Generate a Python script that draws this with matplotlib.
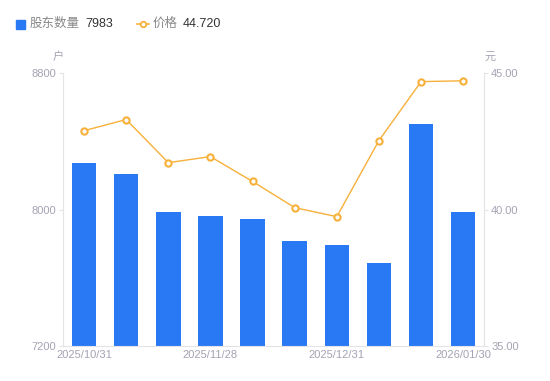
import numpy as np
import matplotlib.pyplot as plt
from matplotlib.lines import Line2D

plt.rcParams['font.family'] = ['Liberation Sans', 'Noto Sans CJK SC', 'DejaVu Sans']

# ----------------------------------------------------------------------
# data
# ----------------------------------------------------------------------
dates = ["2025/10/31", "2025/11/14", "2025/11/21", "2025/11/28", "2025/12/10",
         "2025/12/19", "2025/12/31", "2026/01/09", "2026/01/20", "2026/01/30"]
holders = [8274, 8210, 7988, 7965, 7947, 7813, 7790, 7685, 8502, 7983]
price = [42.89, 43.30, 41.72, 41.94, 41.03, 40.07, 39.74, 42.53, 44.69, 44.72]
shown_ticks = [0, 3, 6, 9]
left_ticks = [7200, 8000, 8800]
right_ticks = [35.00, 40.00, 45.00]

BLUE = "#2979f5"
ORANGE = "#f7b03a"
AXIS = "#e3e3e8"
LABEL = "#a3a3b3"

fig = plt.figure(figsize=(5.5, 3.81), dpi=100)
ax = fig.add_axes([0.1145, 0.092, 0.766, 0.716])
ax2 = ax.twinx()

x = np.arange(len(dates))
ax.bar(x, holders, width=0.58, color=BLUE, zorder=2)
ax.set_ylim(7200, 8800)
ax.set_xlim(-0.5, len(dates) - 0.5)
ax.set_yticks(left_ticks)
ax.set_yticklabels([str(v) for v in left_ticks])
ax.set_xticks([x[i] for i in shown_ticks])
ax.set_xticklabels([dates[i] for i in shown_ticks])

ax2.plot(x, price, color=ORANGE, lw=1, marker="o", ms=4.5, mfc="white",
         mec=ORANGE, mew=1.5, zorder=3)
ax2.set_ylim(35, 45)
ax2.set_yticks(right_ticks)
ax2.set_yticklabels([f"{v:.2f}" for v in right_ticks])

for a in (ax, ax2):
    for s in a.spines.values():
        s.set_visible(False)
    a.tick_params(colors=LABEL, labelsize=8, length=3, width=0.8,
                  color=AXIS, pad=2)
ax.spines["left"].set_visible(True)
ax.spines["left"].set_color(AXIS)
ax.spines["bottom"].set_visible(True)
ax.spines["bottom"].set_color(AXIS)
ax2.spines["right"].set_visible(True)
ax2.spines["right"].set_color(AXIS)
ax.tick_params(axis="x", length=0, pad=3)

# unit labels
fig.text(58 / 550, 1 - 57 / 381, "户", color=LABEL, fontsize=8, ha="center", va="center")
fig.text(490 / 550, 1 - 57 / 381, "元", color=LABEL, fontsize=8, ha="center", va="center")

# legend drawn by hand
ly = 1 - 24 / 381
fig.patches.append(plt.Rectangle((16 / 550, ly - 4.5 / 381), 9 / 550, 9 / 381,
                                 transform=fig.transFigure, color=BLUE))
fig.text(30 / 550, ly, "股东数量", color="#888888", fontsize=9, va="center")
fig.text(85 / 550, ly, "7983", color="#333333", fontsize=9, va="center")
fig.lines.append(Line2D([137 / 550, 143 / 550, 149 / 550], [ly, ly, ly],
                        transform=fig.transFigure, color=ORANGE, lw=1.2,
                        marker="o", ms=4, mfc="white", mec=ORANGE, mew=1.3,
                        markevery=[1]))
fig.text(153 / 550, ly, "价格", color="#888888", fontsize=9, va="center")
fig.text(183 / 550, ly, "44.720", color="#333333", fontsize=9, va="center")

fig.savefig("out.png", dpi=100)
